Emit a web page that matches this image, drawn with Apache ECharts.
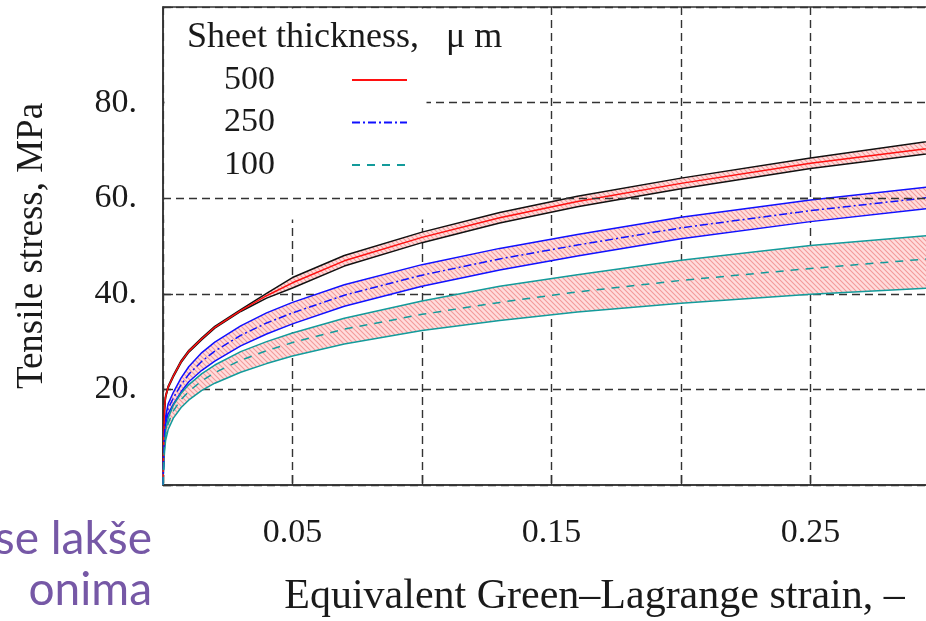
<!DOCTYPE html>
<html>
<head>
<meta charset="utf-8">
<script src="https://cdn.jsdelivr.net/npm/echarts@6/dist/echarts.min.js"></script>
<style>
  html, body { margin: 0; padding: 0; background: #fff; }
  #chart { width: 926px; height: 621px; }
</style>
</head>
<body>
<div id="chart"></div>
<script>
// strain samples shared by every curve
const strain = [0, 0.0003, 0.0006, 0.001, 0.002, 0.004, 0.007, 0.01, 0.015, 0.02, 0.03, 0.04, 0.05, 0.07, 0.1, 0.13, 0.16, 0.2, 0.25, 0.3]

// 500 µm: red centre, black bounds
const s500   = [0, 10, 16, 18.5, 20.5, 22.8, 25.8, 28.0, 30.6, 33.0, 36.5, 39.6, 42.3, 46.9, 51.8, 55.9, 59.3, 63.1, 67.3, 70.7]
const s500Hi = [0, 10, 16.2, 18.7, 20.7, 23.0, 26.0, 28.2, 30.8, 33.2, 36.7, 40.1, 43.4, 48.0, 52.9, 57.0, 60.4, 64.2, 68.4, 72.2]
const s500Lo = [0, 9.8, 15.8, 18.3, 20.3, 22.6, 25.6, 27.8, 30.4, 32.8, 36.3, 39.1, 41.2, 45.8, 50.7, 54.8, 58.2, 62.0, 66.2, 69.6]

// 250 µm: blue dash-dot centre, blue bounds
const s250   = [0, 7, 11, 13.5, 16.0, 18.2, 21.0, 23.2, 25.9, 28.0, 31.3, 33.9, 36.0, 39.7, 43.9, 47.3, 50.2, 53.8, 57.4, 60.4]
const s250Hi = [0, 7.6, 12, 14.3, 17.0, 19.4, 22.4, 24.8, 27.7, 29.9, 33.3, 36.0, 38.2, 41.9, 46.1, 49.5, 52.4, 56.0, 59.6, 62.6]
const s250Lo = [0, 6.4, 10, 12.6, 14.9, 16.9, 19.5, 21.6, 24.0, 25.9, 29.1, 31.6, 33.7, 37.4, 41.6, 45.0, 47.9, 51.5, 55.1, 58.1]

// 100 µm: teal dashed centre, teal bounds
const s100   = [0, 5.5, 8, 10.5, 12.9, 15.5, 17.9, 19.6, 21.8, 23.5, 26.1, 28.1, 29.8, 32.6, 35.7, 38.2, 40.4, 42.8, 45.3, 47.5]
const s100Hi = [0, 6, 8.5, 11.3, 14.0, 16.7, 19.2, 21.0, 23.3, 25.1, 27.9, 30.0, 31.8, 34.9, 38.5, 41.6, 44.0, 47.0, 50.1, 52.4]
const s100Lo = [0, 4.5, 7, 9.3, 11.6, 14.0, 16.2, 17.8, 19.8, 21.3, 23.6, 25.4, 27.0, 29.5, 32.3, 34.4, 36.2, 38.0, 39.9, 41.3]

const legendNames = ['500', '250', '100']
const xLabelValues = ['0.05', '0.15', '0.25']
const yLabelValues = [20, 40, 60, 80]

const SERIF = '"Liberation Serif", "DejaVu Serif", serif'
const RED = '#ff1010'
const BLUE = '#1010ff'
const TEAL = '#139b9b'

// pink hatch used to fill the scatter bands
function hatchCanvas() {
  const c = document.createElement('canvas')
  c.width = 5
  c.height = 5
  const g = c.getContext('2d')
  g.fillStyle = '#ffdcdc'
  g.fillRect(0, 0, 5, 5)
  g.strokeStyle = '#f39a9a'
  g.lineWidth = 1.1
  g.beginPath()
  g.moveTo(-1, -1); g.lineTo(6, 6)
  g.moveTo(-1, 4); g.lineTo(1, 6)
  g.moveTo(4, -1); g.lineTo(6, 1)
  g.stroke()
  return c
}
const hatch = hatchCanvas()

const pairs = (ys) => strain.map((x, i) => [x, ys[i]])

function band(name, lo, hi) {
  return {
    type: 'custom',
    name,
    silent: true,
    clip: true,
    z: 1,
    data: [0],
    renderItem: (params, api) => {
      const pts = []
      for (let i = 0; i < strain.length; i++) pts.push(api.coord([strain[i], hi[i]]))
      for (let i = strain.length - 1; i >= 0; i--) pts.push(api.coord([strain[i], lo[i]]))
      return {
        type: 'polygon',
        shape: { points: pts },
        style: { fill: { image: hatch, repeat: 'repeat' }, stroke: null },
      }
    },
  }
}

function curve(name, ys, color, type, z) {
  return {
    type: 'line',
    name,
    data: pairs(ys),
    showSymbol: false,
    symbol: 'none',
    smooth: false,
    silent: true,
    z: z || 3,
    lineStyle: { color, width: 1.5, type: type || 'solid' },
    itemStyle: { color },
  }
}

const gridDash = { color: '#333', type: [8, 5], width: 1.4 }

const chart = echarts.init(document.getElementById('chart'))
chart.setOption({
  animation: false,
  backgroundColor: '#fff',
  grid: {
    left: 163, top: 7, right: -14, bottom: 136,
    outerBoundsMode: 'none',
    containLabel: false,
    show: true, borderColor: '#333', borderWidth: 1.5, backgroundColor: 'transparent',
  },
  title: {
    text: 'Sheet thickness,   \u03bc m',
    left: 187, top: 20, padding: 0,
    textStyle: { fontFamily: SERIF, fontSize: 36, fontWeight: 'normal', color: '#1a1a1a' },
  },
  legend: {
    data: legendNames,
    orient: 'vertical',
    align: 'right',
    left: 224, top: 63, padding: 0,
    itemWidth: 55, itemHeight: 20, itemGap: 8.5,
    selectedMode: false,
    itemStyle: { color: 'transparent', borderColor: 'transparent', borderWidth: 0 },
    textStyle: {
      fontFamily: SERIF, fontSize: 34, lineHeight: 34, color: '#1a1a1a',
      padding: [0, 72, 0, 0],
    },
  },
  graphic: [
    // white box behind the legend that hides the grid
    { type: 'rect', z: 1, silent: true, shape: { x: 164.5, y: 8.5, width: 262, height: 211 }, style: { fill: '#fff' } },
    { type: 'text', z: 5, silent: true, x: 152, y: 539, style: { text: 'se lak\u0161e', align: 'right', verticalAlign: 'middle', font: '46px Lato, "Open Sans", sans-serif', fill: '#7658a6' } },
    { type: 'text', z: 5, silent: true, x: 152, y: 590, style: { text: 'onima', align: 'right', verticalAlign: 'middle', font: '46px Lato, "Open Sans", sans-serif', fill: '#7658a6' } },
  ],
  xAxis: {
    type: 'value',
    min: 0, max: 0.3, interval: 0.05,
    name: 'Equivalent Green\u2013Lagrange strain, \u2013',
    nameLocation: 'middle',
    nameGap: 91,
    nameTextStyle: { fontFamily: SERIF, fontSize: 42, color: '#1a1a1a', padding: [0, 0, 0, 86] },
    axisLine: { show: true, lineStyle: { color: '#333', width: 1.5 } },
    axisTick: { show: true, inside: true, length: 10, lineStyle: { color: '#333', width: 1.4 } },
    axisLabel: {
      margin: 31,
      fontFamily: SERIF, fontSize: 34, color: '#1a1a1a',
      formatter: (v) => {
        const s = v.toFixed(2)
        return xLabelValues.includes(s) ? s : ''
      },
    },
    splitLine: { show: true, lineStyle: gridDash },
  },
  yAxis: {
    type: 'value',
    min: 0, max: 100, interval: 20,
    name: 'Tensile stress, MPa',
    nameLocation: 'middle',
    nameGap: 112,
    nameTextStyle: { fontFamily: SERIF, fontSize: 37, color: '#1a1a1a' },
    axisLine: { show: true, lineStyle: { color: '#333', width: 1.5 } },
    axisTick: { show: true, inside: true, length: 10, lineStyle: { color: '#333', width: 1.4 } },
    axisLabel: {
      margin: 26,
      fontFamily: SERIF, fontSize: 34, color: '#1a1a1a',
      formatter: (v) => (yLabelValues.includes(v) ? v + '.' : ''),
    },
    splitLine: { show: true, lineStyle: gridDash },
  },
  series: [
    band('band500', s500Lo, s500Hi),
    band('band250', s250Lo, s250Hi),
    band('band100', s100Lo, s100Hi),
    curve('500 upper', s500Hi, '#111'),
    curve('500 lower', s500Lo, '#111'),
    curve('250 upper', s250Hi, BLUE),
    curve('250 lower', s250Lo, BLUE),
    curve('100 upper', s100Hi, TEAL),
    curve('100 lower', s100Lo, TEAL),
    Object.assign(curve('500', s500, RED, 'solid', 4), {
      // 60 MPa grid line stays visible across the legend box
      markLine: {
        silent: true, symbol: 'none', label: { show: false },
        lineStyle: gridDash,
        data: [{ yAxis: yLabelValues[2] }],
      },
    }),
    curve('250', s250, BLUE, [8, 3, 2, 3], 4),
    curve('100', s100, TEAL, [8, 7], 4),
  ],
})
</script>
</body>
</html>
